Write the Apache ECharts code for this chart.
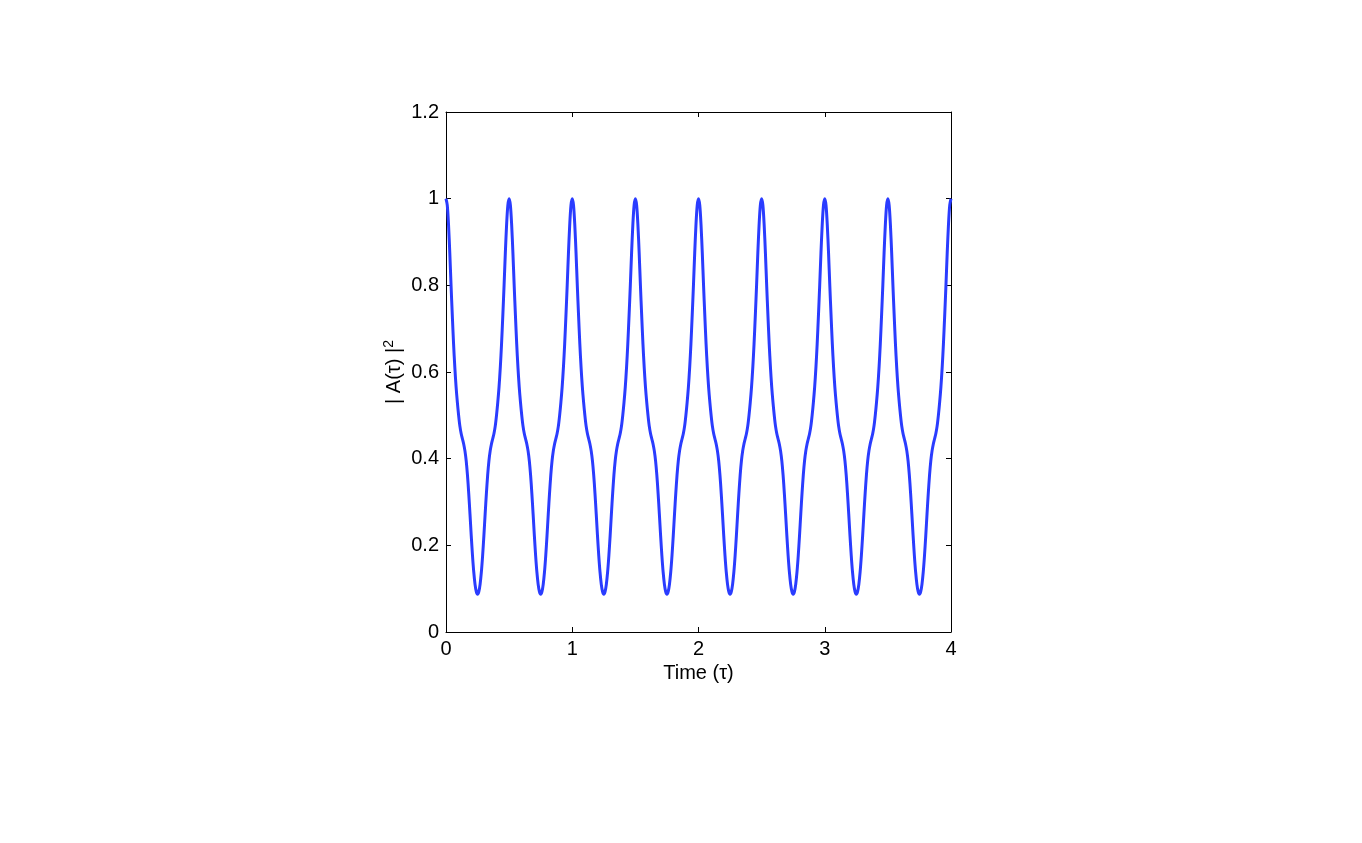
<!DOCTYPE html>
<html>
<head>
<meta charset="utf-8">
<script src="https://cdn.jsdelivr.net/npm/echarts@6/dist/echarts.min.js"></script>
<style>html,body{margin:0;padding:0;background:#fff}#c{width:1362px;height:843px}</style>
</head>
<body>
<div id="c"></div>
<script>
// Sample step of the time grid (tau)
var timeStep = 0.01;
// |A(tau)|^2, tau = 0 .. 4
var intensity = [
1.0,0.985,0.94,0.875,0.80,0.73,0.665,0.61,0.565,0.53,0.50,0.475,0.458,0.446,0.434,0.418,0.395,0.362,0.32,0.272,0.222,0.176,0.138,0.11,0.093,0.087,0.093,0.11,0.138,0.176,0.222,0.272,0.32,0.362,0.395,0.418,0.434,0.446,0.458,0.475,0.50,0.53,0.565,0.61,0.665,0.73,0.80,0.875,0.94,0.985,
1.0,0.985,0.94,0.875,0.80,0.73,0.665,0.61,0.565,0.53,0.50,0.475,0.458,0.446,0.434,0.418,0.395,0.362,0.32,0.272,0.222,0.176,0.138,0.11,0.093,0.087,0.093,0.11,0.138,0.176,0.222,0.272,0.32,0.362,0.395,0.418,0.434,0.446,0.458,0.475,0.50,0.53,0.565,0.61,0.665,0.73,0.80,0.875,0.94,0.985,
1.0,0.985,0.94,0.875,0.80,0.73,0.665,0.61,0.565,0.53,0.50,0.475,0.458,0.446,0.434,0.418,0.395,0.362,0.32,0.272,0.222,0.176,0.138,0.11,0.093,0.087,0.093,0.11,0.138,0.176,0.222,0.272,0.32,0.362,0.395,0.418,0.434,0.446,0.458,0.475,0.50,0.53,0.565,0.61,0.665,0.73,0.80,0.875,0.94,0.985,
1.0,0.985,0.94,0.875,0.80,0.73,0.665,0.61,0.565,0.53,0.50,0.475,0.458,0.446,0.434,0.418,0.395,0.362,0.32,0.272,0.222,0.176,0.138,0.11,0.093,0.087,0.093,0.11,0.138,0.176,0.222,0.272,0.32,0.362,0.395,0.418,0.434,0.446,0.458,0.475,0.50,0.53,0.565,0.61,0.665,0.73,0.80,0.875,0.94,0.985,
1.0,0.985,0.94,0.875,0.80,0.73,0.665,0.61,0.565,0.53,0.50,0.475,0.458,0.446,0.434,0.418,0.395,0.362,0.32,0.272,0.222,0.176,0.138,0.11,0.093,0.087,0.093,0.11,0.138,0.176,0.222,0.272,0.32,0.362,0.395,0.418,0.434,0.446,0.458,0.475,0.50,0.53,0.565,0.61,0.665,0.73,0.80,0.875,0.94,0.985,
1.0,0.985,0.94,0.875,0.80,0.73,0.665,0.61,0.565,0.53,0.50,0.475,0.458,0.446,0.434,0.418,0.395,0.362,0.32,0.272,0.222,0.176,0.138,0.11,0.093,0.087,0.093,0.11,0.138,0.176,0.222,0.272,0.32,0.362,0.395,0.418,0.434,0.446,0.458,0.475,0.50,0.53,0.565,0.61,0.665,0.73,0.80,0.875,0.94,0.985,
1.0,0.985,0.94,0.875,0.80,0.73,0.665,0.61,0.565,0.53,0.50,0.475,0.458,0.446,0.434,0.418,0.395,0.362,0.32,0.272,0.222,0.176,0.138,0.11,0.093,0.087,0.093,0.11,0.138,0.176,0.222,0.272,0.32,0.362,0.395,0.418,0.434,0.446,0.458,0.475,0.50,0.53,0.565,0.61,0.665,0.73,0.80,0.875,0.94,0.985,
1.0,0.985,0.94,0.875,0.80,0.73,0.665,0.61,0.565,0.53,0.50,0.475,0.458,0.446,0.434,0.418,0.395,0.362,0.32,0.272,0.222,0.176,0.138,0.11,0.093,0.087,0.093,0.11,0.138,0.176,0.222,0.272,0.32,0.362,0.395,0.418,0.434,0.446,0.458,0.475,0.50,0.53,0.565,0.61,0.665,0.73,0.80,0.875,0.94,0.985,
1.0
];
var xTicks = [0, 1, 2, 3, 4];
var yTicks = [0, 0.2, 0.4, 0.6, 0.8, 1, 1.2];
var xLabel = 'Time (τ)';

var seriesData = intensity.map(function (v, i) { return [+(i * timeStep).toFixed(4), v]; });

var font = 'Liberation Sans, Arial, Helvetica, sans-serif';
var axisLine = { show: true, onZero: false, lineStyle: { color: '#000', width: 1 } };
var tickIn = { show: true, inside: true, length: 5, lineStyle: { color: '#000', width: 1 } };

var chart = echarts.init(document.getElementById('c'), null, { renderer: 'canvas' });
chart.setOption({
  animation: false,
  backgroundColor: '#fff',
  grid: { left: 446, right: 411, top: 112, bottom: 211, containLabel: false },
  xAxis: [{
    type: 'value', min: xTicks[0], max: xTicks[xTicks.length - 1], interval: 1,
    position: 'bottom',
    axisLine: axisLine, axisTick: tickIn, splitLine: { show: false },
    axisLabel: { color: '#000', fontSize: 20, fontFamily: font, margin: 7 },
    name: xLabel, nameLocation: 'middle', nameGap: 30,
    nameTextStyle: { color: '#000', fontSize: 20, fontFamily: font }
  }, {
    type: 'value', min: xTicks[0], max: xTicks[xTicks.length - 1], interval: 1,
    position: 'top',
    axisLine: axisLine, axisTick: tickIn, splitLine: { show: false },
    axisLabel: { show: false }
  }],
  yAxis: [{
    type: 'value', min: yTicks[0], max: yTicks[yTicks.length - 1], interval: 0.2,
    position: 'left',
    axisLine: axisLine, axisTick: tickIn, splitLine: { show: false },
    axisLabel: { color: '#000', fontSize: 20, fontFamily: font, margin: 7,
      formatter: function (v) { return String(+v.toFixed(1)); } },
    name: '{n|| A(τ) |}{s|2}', nameLocation: 'middle', nameGap: 40, nameRotate: 90,
    nameTextStyle: {
      color: '#000', fontFamily: font,
      rich: {
        n: { fontSize: 20, fontFamily: font, color: '#000' },
        s: { fontSize: 14, fontFamily: font, color: '#000', verticalAlign: 'top', padding: [0, 0, 10, 0] }
      }
    }
  }, {
    type: 'value', min: yTicks[0], max: yTicks[yTicks.length - 1], interval: 0.2,
    position: 'right',
    axisLine: axisLine, axisTick: tickIn, splitLine: { show: false },
    axisLabel: { show: false }
  }],
  series: [{
    type: 'line', xAxisIndex: 0, yAxisIndex: 0,
    data: seriesData, showSymbol: false, smooth: 0.3,
    lineStyle: { color: '#2a3cff', width: 3 },
    clip: true
  }]
});
</script>
</body>
</html>
